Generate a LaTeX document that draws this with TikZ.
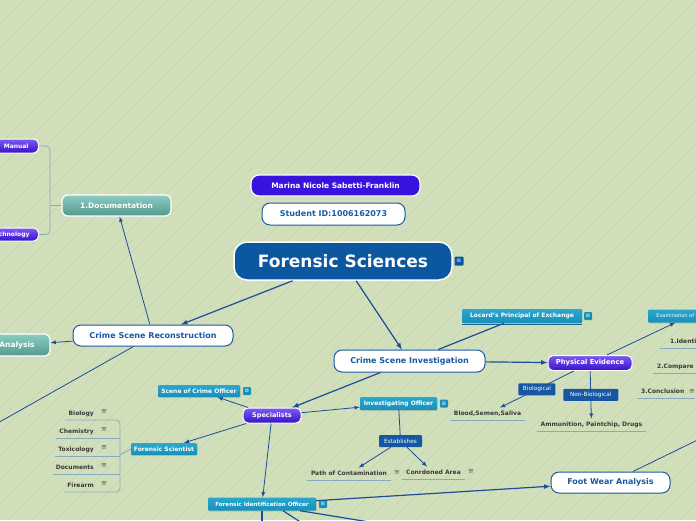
\documentclass[tikz,border=0pt]{standalone}
\usepackage{fontspec}
\setmainfont{DejaVu Sans}
\usetikzlibrary{arrows,shadows}

\definecolor{bgcol}{HTML}{D2DFBB}
\definecolor{stripecol}{HTML}{C6D4AF}
\definecolor{rootblue}{HTML}{0C58A0}
\definecolor{topicblue}{HTML}{1A5AA3}
\definecolor{linkblue}{HTML}{1A4E9A}
\definecolor{namepurple}{HTML}{3A12DD}
\definecolor{purptop}{HTML}{7E5BF2}
\definecolor{purpbot}{HTML}{3710C8}
\definecolor{tealtop}{HTML}{8BCDC2}
\definecolor{tealbot}{HTML}{55988F}
\definecolor{cyantop}{HTML}{2AA8CE}
\definecolor{cyanbot}{HTML}{1690B9}
\definecolor{lblblue}{HTML}{1557A3}
\definecolor{leafgray}{HTML}{3A3A3A}
\definecolor{menugray}{HTML}{555555}
\definecolor{ulcol}{HTML}{86ABC0}
\definecolor{locunder}{HTML}{1B5F8A}

\tikzset{
  rootnode/.style={draw=white, line width=1.5pt, fill=rootblue, rounded corners=13pt, text=white, font=\bfseries\fontsize{17}{18}\selectfont},
  namebox/.style={draw=white, line width=1.2pt, fill=namepurple, rounded corners=8pt, text=white, font=\bfseries\fontsize{7.5}{8}\selectfont},
  topic/.style={draw=topicblue, line width=1pt, fill=white, rounded corners=8pt, text=topicblue, font=\bfseries\fontsize{8}{9}\selectfont, minimum height=21pt, inner sep=2pt},
  tealbox/.style={draw=white, line width=1.2pt, top color=tealtop, bottom color=tealbot, rounded corners=6pt, text=white, font=\bfseries\fontsize{7.5}{8}\selectfont, minimum height=21pt, inner sep=1pt},
  purplebox/.style={draw=white, line width=1pt, top color=purptop, bottom color=purpbot, rounded corners=5pt, text=white, font=\bfseries\fontsize{6.5}{7}\selectfont, inner sep=1pt},
  cyanbox/.style={top color=cyantop, bottom color=cyanbot, rounded corners=1pt, text=white, font=\bfseries\fontsize{6}{7}\selectfont, minimum height=12pt, inner sep=1pt, drop shadow={shadow xshift=0.6pt, shadow yshift=-1pt, opacity=.25}},
  lbl/.style={fill=lblblue, rounded corners=1pt, text=white, font=\fontsize{5.8}{6}\selectfont, minimum height=12pt, inner sep=1pt},
  leaf/.style={text=leafgray, font=\bfseries\fontsize{6}{7}\selectfont, inner xsep=3pt, inner ysep=3pt, text height=4.5pt, text depth=1.5pt},
  menu/.style={text=menugray, font=\fontsize{7}{7}\selectfont, inner sep=0pt},
  noteicon/.style={fill=cyanbot, rounded corners=1pt, text=white, font=\fontsize{6}{6}\selectfont, inner sep=0pt, minimum size=8pt},
  link/.style={draw=linkblue, line width=1.2pt},
  linkarrow/.style={link, -latex},
  thinlink/.style={draw=linkblue, line width=0.8pt},
  thinarrow/.style={thinlink, -latex},
  underline/.style={draw=ulcol, line width=0.8pt},
  bracket/.style={draw=ulcol, line width=0.8pt, rounded corners=4pt},
  stripe/.style={draw=stripecol, line width=0.5pt}
}

\begin{document}
\begin{tikzpicture}[x=1pt,y=-1pt]
  \useasboundingbox (0,0) rectangle (696,520);
  \clip (0,0) rectangle (696,520);
  \fill[bgcol] (0,0) rectangle (696,520);
  \foreach \k in {-520,-508,...,696}
    \draw[stripe] (\k,520) -- ++(520,-520);

  % main topic and title
  \node[rootnode, minimum width=218pt, minimum height=38pt] (root) at (343,261) {Forensic Sciences};
  \node[noteicon, fill=rootblue, minimum size=9pt] (root-m) at (459,261) {≡};
  \node[namebox, minimum width=169pt, minimum height=21pt] (name) at (335.5,185.5) {Marina Nicole Sabetti-Franklin};
  \node[topic, minimum width=143pt, minimum height=22pt] (sid) at (333.5,214) {Student ID:1006162073};

  % reconstruction
  \node[topic, minimum width=160pt] (csr) at (153,335.5) {Crime Scene Reconstruction};
  \node[tealbox, minimum width=109pt] (doc) at (116.5,205.5) {1.Documentation};
  \node[tealbox, minimum width=66pt, minimum height=22pt] (ana) at (17,345) {Analysis};
  \node[purplebox, anchor=east, inner xsep=10pt, minimum height=14pt, font=\bfseries\fontsize{6}{7}\selectfont] (manual) at (39,146) {Manual};
  \node[purplebox, anchor=east, inner xsep=9pt, minimum height=13pt, font=\bfseries\fontsize{6}{7}\selectfont] (tech) at (39,234.5) {Technology};
  \coordinate (docjoin) at (50,205.5);
  \coordinate (offsw) at (-20,433);

  % investigation
  \node[topic, minimum width=151pt, minimum height=22pt] (csi) at (409.5,361) {Crime Scene Investigation};
  \node[cyanbox, minimum width=120pt, minimum height=14pt] (locard) at (522,316) {Locard's Principal of Exchange};
  \node[noteicon] (locard-m) at (588,316) {≡};
  \node[purplebox, minimum width=84pt, minimum height=15pt, font=\bfseries\fontsize{6.8}{8}\selectfont] (phys) at (590,363) {Physical Evidence};
  \node[cyanbox, anchor=west, minimum width=54pt, minimum height=13pt, font=\fontsize{5}{6}\selectfont] (exam) at (648,316) {Examination of};
  \node[leaf, anchor=south west, inner xsep=10pt] (ident) at (660,348) {1.Identification};
  \node[leaf, anchor=south west, inner xsep=4pt] (comp) at (653,373) {2.Compare};
  \node[leaf, anchor=south west, inner xsep=4pt] (concl) at (637,398) {3.Conclusion};
  \node[menu] (concl-m) at (692,392) {≡};
  \node[leaf, minimum width=75pt, anchor=south] (blood) at (487.5,420) {Blood,Semen,Saliva};
  \node[leaf, minimum width=109pt, anchor=south] (ammo) at (591.5,431) {Ammunition, Paintchip, Drugs};

  % specialists
  \node[purplebox, minimum width=58pt, minimum height=15pt] (spec) at (272,415.5) {Specialists};
  \node[cyanbox, minimum width=82pt] (sco) at (199,391) {Scene of Crime Officer};
  \node[noteicon] (sco-m) at (247,391) {≡};
  \node[cyanbox, minimum width=77pt, minimum height=13pt] (io) at (398.5,403.5) {Investigating Officer};
  \node[noteicon] (io-m) at (444,403.5) {≡};
  \node[lbl, minimum width=43pt] (estab) at (400.5,441) {Establishes};
  \node[leaf, minimum width=84pt, anchor=south] (path) at (349,480) {Path of Contamination};
  \node[menu] (path-m) at (397,473) {≡};
  \node[leaf, minimum width=63pt, anchor=south] (conr) at (433.5,479) {Conrdoned Area};
  \node[menu] (conr-m) at (471,472) {≡};
  \node[cyanbox, minimum width=66pt] (fsci) at (164,449) {Forensic Scientist};
  \coordinate (fsjoin) at (120,455);
  \node[leaf, anchor=south east] (bio) at (97,420) {Biology};
  \node[leaf, anchor=south east] (chem) at (97,438) {Chemistry};
  \node[leaf, anchor=south east] (tox) at (97,456) {Toxicology};
  \node[leaf, anchor=south east] (docs) at (97,474) {Documents};
  \node[leaf, anchor=south east] (fire) at (97,492) {Firearm};
  \foreach \n/\y in {bio/412,chem/430,tox/448,docs/466,fire/484}
    \node[menu] (\n-m) at (104,\y) {≡};
  \node[cyanbox, minimum width=108pt, minimum height=13pt, font=\bfseries\fontsize{5.6}{7}\selectfont] (fio) at (262,504) {Forensic Identification Officer};
  \node[noteicon] (fio-m) at (323,504) {≡};
  \node[topic, minimum width=119pt] (fwa) at (610.5,482.5) {Foot Wear Analysis};
  \coordinate (offne) at (720,429);
  \coordinate (offs1) at (262,540);
  \coordinate (offs2) at (328,540);
  \coordinate (offs3) at (480,540);

  % connectors
  \draw[linkarrow] (root) -- (csr);
  \draw[linkarrow] (root) -- (csi);
  \draw[thinarrow] (csr) -- (doc);
  \draw[thinarrow] (csr) -- (ana);
  \draw[thinlink] (csr) -- (offsw);
  \draw[bracket] (manual.east) -- (docjoin |- manual.east) -- (docjoin |- tech.east) -- (tech.east);
  \draw[underline] (docjoin) -- (doc.west);

  \draw[link] (locard) -- (csi);
  \draw[draw=locunder, line width=1pt] ([yshift=-1pt]locard.south west) -- ([yshift=-1pt]locard.south east);
  \draw[linkarrow] (csi) -- (phys);
  \draw[thinarrow] (phys) -- (exam.south);
  \draw[thinarrow] (phys) -- node[lbl, minimum width=37pt] {Biological} (blood);
  \draw[thinarrow] (phys) -- node[lbl, minimum width=55pt] {Non-Biological} (ammo);
  \foreach \n in {ident,comp,blood,ammo,path,conr}
    \draw[underline] (\n.south west) -- (\n.south east);
  \draw[underline] (concl.south west) -- (concl.south -| concl-m.east);

  \draw[linkarrow] (csi) -- (spec);
  \draw[thinarrow] (spec) -- (sco);
  \draw[thinarrow] (spec) -- (io);
  \draw[thinarrow] (spec) -- (fsci);
  \draw[thinarrow] (spec) -- (fio);
  \draw[thinlink] (io) -- (estab);
  \draw[thinarrow] (estab) -- (path);
  \draw[thinarrow] (estab) -- (conr);
  \draw[bracket] (bio.south west) -- (fsjoin |- bio.south) -- (fsjoin |- fire.south) -- (fire.south west);
  \foreach \n in {chem,tox,docs}
    \draw[bracket] (\n.south west) -- (fsjoin |- \n.south);
  \draw[underline] (fsjoin) -- (fsci.west);

  \draw[linkarrow] (fio) -- (fwa);
  \draw[thinlink] (fwa) -- (offne);
  \draw[link] (fio.south) -- (offs1);
  \draw[link] ([xshift=21pt]fio.south) -- (offs2);
  \draw[link] ([xshift=38pt]fio.south) -- (offs3);
\end{tikzpicture}
\end{document}
